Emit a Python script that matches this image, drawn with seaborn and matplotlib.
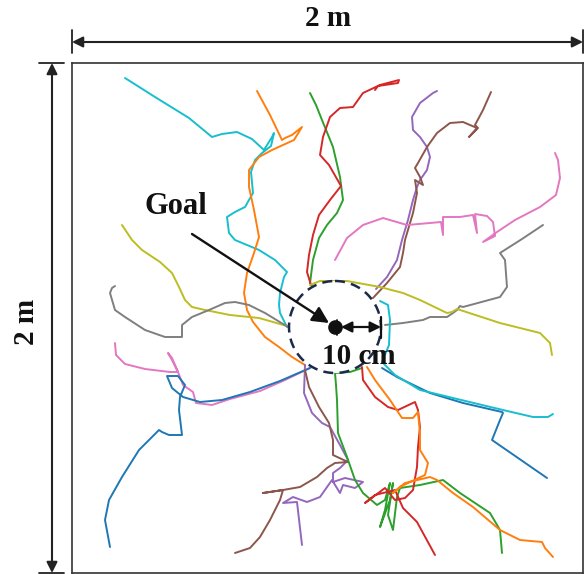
import numpy as np
import pandas as pd
import matplotlib
matplotlib.use("Agg")
import matplotlib.pyplot as plt
from matplotlib.patches import Circle
import seaborn as sns

sns.set_style("white")
plt.rcParams["font.family"] = ["Liberation Serif", "DejaVu Serif"]

# Arena coordinates (tracking-camera units; arena spans 72..583 x 63..573, y downward)
ARENA_X = (72, 583)
ARENA_Y = (573, 63)
GOAL = (335, 327)
GOAL_RADIUS = 46

cyan_tl_x = [125, 155, 189, 212, 222, 237, 252, 264, 272, 274, 271, 262, 255, 251, 253, 245, 235, 227, 229, 235, 259, 275, 287, 284, 280, 279, 280, 287]
cyan_tl_y = [78, 97, 118, 137, 134, 132, 139, 150, 137, 133, 146, 153, 160, 172, 193, 207, 212, 217, 233, 240, 250, 260, 272, 277, 293, 305, 313, 327]

orange_tl_x = [257, 270, 282, 285, 292, 302, 294, 272, 259, 249, 249, 254, 259, 254, 247, 244, 247, 253, 265, 279, 292, 305]
orange_tl_y = [91, 115, 140, 138, 135, 127, 140, 150, 157, 170, 187, 210, 237, 253, 273, 293, 310, 322, 337, 347, 357, 365]

green_t_x = [310, 316, 322, 333, 340, 343, 337, 327, 319, 313, 310, 313]
green_t_y = [93, 105, 120, 147, 177, 200, 213, 225, 238, 260, 283, 288]

red_t_x = [375, 378, 398, 399, 380, 363, 353, 340, 330, 323, 320, 329, 341, 330, 319, 313, 309, 307, 311]
red_t_y = [90, 86, 83, 80, 85, 93, 107, 108, 117, 137, 155, 165, 186, 200, 215, 235, 255, 272, 285]

purple_t_x = [437, 433, 420, 412, 413, 420, 427, 430, 427, 420, 417, 413, 408, 402, 397, 387, 376]
purple_t_y = [91, 93, 103, 117, 130, 137, 147, 157, 170, 180, 187, 200, 220, 240, 260, 277, 289]

brown_t_x = [491, 483, 475, 478, 469, 477, 463, 450, 437, 427, 418, 415, 420, 423, 415, 417, 413, 405, 403, 400, 387, 373]
brown_t_y = [92, 110, 125, 128, 137, 128, 122, 123, 133, 147, 163, 168, 177, 185, 180, 193, 213, 240, 253, 267, 283, 298]

pink_tr_x = [555, 558, 560, 556, 540, 515, 497, 483, 495, 493, 487, 475, 477, 473, 460, 443, 443, 441, 430, 407, 383, 363, 347, 335]
pink_tr_y = [153, 160, 178, 195, 207, 220, 232, 242, 236, 222, 216, 214, 233, 215, 217, 217, 235, 222, 223, 225, 218, 225, 238, 260]

gray_tr_x = [543, 522, 500, 505, 507, 500, 463, 460, 457, 453, 447, 430, 423, 403, 385]
gray_tr_y = [225, 239, 253, 260, 287, 297, 307, 306, 310, 313, 317, 317, 320, 323, 325]

olive_l_x = [122, 132, 142, 160, 172, 179, 185, 192, 205, 230, 259, 287]
olive_l_y = [225, 240, 250, 262, 273, 287, 300, 307, 310, 315, 318, 326]

olive_r_x = [552, 550, 540, 500, 457, 452, 447, 420, 403, 380, 347, 320, 310]
olive_r_y = [355, 343, 333, 323, 309, 312, 313, 300, 293, 287, 281, 281, 285]

gray_l_x = [115, 112, 110, 115, 125, 145, 165, 182, 182, 192, 209, 225, 235, 249, 265, 288]
gray_l_y = [286, 288, 293, 310, 317, 330, 337, 337, 325, 317, 310, 303, 302, 305, 313, 327]

pink_l_x = [115, 116, 125, 145, 170, 178, 172, 168, 172, 178, 183, 193, 196, 212, 230, 260, 285, 312]
pink_l_y = [343, 355, 364, 369, 372, 372, 360, 353, 358, 372, 385, 392, 403, 405, 399, 391, 380, 367]

blue_l_x = [110, 105, 109, 122, 139, 159, 162, 169, 182, 179, 180, 185, 178, 167, 172, 183, 200, 222, 250, 280, 310]
blue_l_y = [547, 520, 500, 477, 450, 430, 432, 435, 435, 410, 397, 385, 376, 376, 388, 397, 402, 400, 392, 381, 368]

purple_b_x = [305, 304, 312, 322, 330, 340, 348, 340, 333, 333, 345, 363, 355, 343, 340, 332, 320, 307, 293, 283, 297, 302]
purple_b_y = [365, 393, 413, 423, 427, 445, 460, 468, 473, 482, 478, 482, 488, 485, 493, 480, 497, 502, 497, 503, 502, 545]

brown_b_x = [305, 309, 319, 329, 333, 333, 348, 335, 327, 317, 300, 283, 263, 283, 280, 270, 260, 250, 235]
brown_b_y = [370, 387, 407, 423, 440, 455, 462, 463, 468, 477, 487, 490, 493, 490, 500, 520, 537, 548, 553]

green_b_x = [362, 350, 335, 336, 337, 338, 347, 355, 363, 377, 385, 390, 385, 380, 390, 393, 388, 393, 397, 400, 420, 443, 460, 490, 500, 502]
green_b_y = [368, 372, 373, 385, 400, 433, 457, 480, 493, 505, 500, 483, 510, 527, 500, 483, 515, 530, 497, 488, 485, 480, 493, 513, 530, 553]

red_b_x = [362, 363, 375, 388, 398, 415, 418, 420, 418, 417, 413, 405, 395, 385, 365, 375, 395, 403, 417, 435]
red_b_y = [367, 380, 397, 407, 410, 402, 410, 427, 447, 467, 490, 498, 500, 488, 503, 495, 490, 508, 522, 555]

orange_b_x = [367, 375, 390, 402, 413, 418, 420, 420, 428, 425, 410, 400, 393, 405, 430, 437, 453, 473, 500, 520, 542, 545, 553]
orange_b_y = [367, 380, 400, 418, 418, 412, 433, 450, 463, 475, 482, 487, 493, 483, 477, 480, 493, 507, 530, 540, 542, 548, 557]

blue_r_x = [382, 397, 430, 463, 502, 503, 500, 492, 547]
blue_r_y = [368, 377, 393, 403, 412, 413, 420, 440, 478]

cyan_r_x = [380, 388, 390, 389, 382, 395, 420, 453, 503, 533, 548, 553]
cyan_r_y = [301, 305, 320, 345, 362, 375, 390, 398, 410, 417, 417, 414]

trajectories = [
    ("cyan_tl", "cyan", cyan_tl_x, cyan_tl_y),
    ("orange_tl", "orange", orange_tl_x, orange_tl_y),
    ("green_t", "green", green_t_x, green_t_y),
    ("red_t", "red", red_t_x, red_t_y),
    ("purple_t", "purple", purple_t_x, purple_t_y),
    ("brown_t", "brown", brown_t_x, brown_t_y),
    ("pink_tr", "pink", pink_tr_x, pink_tr_y),
    ("gray_tr", "gray", gray_tr_x, gray_tr_y),
    ("olive_l", "olive", olive_l_x, olive_l_y),
    ("olive_r", "olive", olive_r_x, olive_r_y),
    ("gray_l", "gray", gray_l_x, gray_l_y),
    ("pink_l", "pink", pink_l_x, pink_l_y),
    ("blue_l", "blue", blue_l_x, blue_l_y),
    ("purple_b", "purple", purple_b_x, purple_b_y),
    ("brown_b", "brown", brown_b_x, brown_b_y),
    ("green_b", "green", green_b_x, green_b_y),
    ("red_b", "red", red_b_x, red_b_y),
    ("orange_b", "orange", orange_b_x, orange_b_y),
    ("blue_r", "blue", blue_r_x, blue_r_y),
    ("cyan_r", "cyan", cyan_r_x, cyan_r_y),
]

tab = dict(zip(["blue", "orange", "green", "red", "purple", "brown", "pink", "gray", "olive", "cyan"],
               sns.color_palette("tab10", 10)))

rows = []
for name, col, xs, ys in trajectories:
    for i, (x, y) in enumerate(zip(xs, ys)):
        rows.append({"traj": name, "order": i, "x": x, "y": y})
df = pd.DataFrame(rows)
palette = {name: tab[col] for name, col, _, _ in trajectories}

W, H = 587, 574
fig = plt.figure(figsize=(W / 100, H / 100), dpi=100)
ax = fig.add_axes([72 / W, 1 - 573 / H, 511 / W, 510 / H])

sns.lineplot(data=df, x="x", y="y", hue="traj", palette=palette, sort=False,
             estimator=None, legend=False, lw=1.4, ax=ax, zorder=2)

ax.set_xlim(*ARENA_X)
ax.set_ylim(*ARENA_Y)
ax.set_xticks([])
ax.set_yticks([])
ax.set_xlabel("")
ax.set_ylabel("")
for s in ax.spines.values():
    s.set_color("#333333")
    s.set_linewidth(1.2)

# goal region
circ = Circle(GOAL, GOAL_RADIUS, facecolor="white", edgecolor="#1b2a4a",
              lw=1.8, linestyle=(0, (4, 2.5)), zorder=3)
ax.add_patch(circ)
ax.plot([GOAL[0]], [GOAL[1]], "o", color="#111111", ms=9.5, zorder=6)

# goal arrow
ax.annotate("", xy=(329, 323), xytext=(192, 234),
            arrowprops=dict(arrowstyle="-|>", color="#111111", lw=1.7,
                            mutation_scale=25, shrinkA=0, shrinkB=0), zorder=7)
ax.text(176, 207, "Goal", fontsize=22, fontweight="bold", ha="center",
        va="center", color="#111111", zorder=7)

# 10 cm radius arrow
ax.annotate("", xy=(381, 327), xytext=(341, 327),
            arrowprops=dict(arrowstyle="<|-|>", color="#111111", lw=1.6,
                            mutation_scale=16, shrinkA=0, shrinkB=0), zorder=7)
ax.plot([381, 381], [317, 338], color="#111111", lw=1.6, zorder=7)
ax.plot([337, 337], [320, 335], color="#111111", lw=1.3, zorder=7)
ax.text(359, 356, "10 cm", fontsize=21, fontweight="bold", ha="center",
        va="center", color="#111111", zorder=7)

# dimension arrows outside arena
ax.annotate("", xy=(583, 42), xytext=(72, 42), annotation_clip=False,
            arrowprops=dict(arrowstyle="<|-|>", color="#222222", lw=1.5,
                            mutation_scale=16, shrinkA=0, shrinkB=0))
ax.plot([72, 72], [30, 53], color="#222222", lw=1.3, clip_on=False)
ax.plot([583, 583], [30, 53], color="#222222", lw=1.3, clip_on=False)
ax.text(328, 19, "2 m", fontsize=21, fontweight="bold", ha="center", va="center",
        color="#111111")

ax.annotate("", xy=(52, 573), xytext=(52, 63), annotation_clip=False,
            arrowprops=dict(arrowstyle="<|-|>", color="#222222", lw=1.5,
                            mutation_scale=16, shrinkA=0, shrinkB=0))
ax.plot([39, 64], [63, 63], color="#222222", lw=1.3, clip_on=False)
ax.plot([39, 64], [573, 573], color="#222222", lw=1.3, clip_on=False)
ax.text(27, 322, "2 m", fontsize=21, fontweight="bold", ha="center", va="center",
        rotation=90, color="#111111")

fig.savefig("out.png", dpi=100)
